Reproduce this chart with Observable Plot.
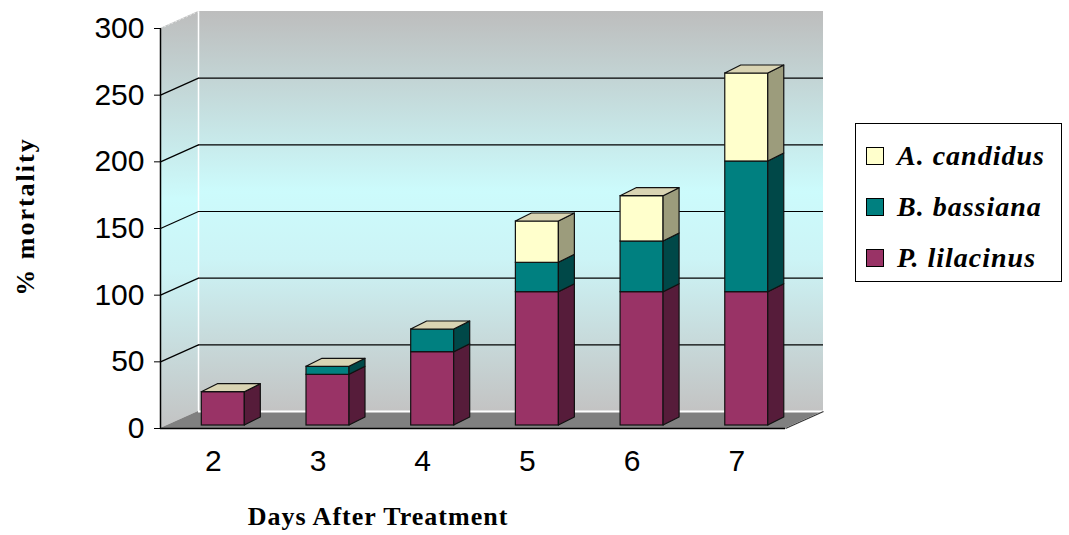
<!DOCTYPE html>
<html>
<head>
<meta charset="utf-8">
<script src="https://cdn.jsdelivr.net/npm/d3@7"></script>
<script src="https://cdn.jsdelivr.net/npm/@observablehq/plot@0.6"></script>
<style>
  body { margin: 0; background: #fff; }
  #chart { position: relative; width: 1069px; height: 535px; }
  .legend {
    position: absolute; left: 855px; top: 123px; width: 207px; height: 159px;
    border: 1px solid #000; background: #fff; box-sizing: border-box;
    font-family: "Liberation Serif", "Times New Roman", serif;
    font-weight: bold; font-style: italic; font-size: 28px; letter-spacing: 1px;
  }
  .legend .row { position: absolute; left: 10px; height: 32px; display: flex; align-items: center; white-space: nowrap; }
  .legend .sw { width: 18px; height: 18px; border: 1px solid #000; box-sizing: border-box; margin-right: 13px; }
</style>
</head>
<body>
<div id="chart"></div>
<script>
// Days after treatment and cumulative % mortality per fungus (stacked)
const days = [2, 3, 4, 5, 6, 7];
const pLilacinus = [25, 38, 55, 100, 100, 100];
const bBassiana  = [0, 6, 17, 22, 38, 98];
const aCandidus  = [0, 0, 0, 31, 34, 66];
const seriesNames = ["P. lilacinus", "B. bassiana", "A. candidus"];
const seriesValues = [pLilacinus, bBassiana, aCandidus];
const yTicks = [0, 50, 100, 150, 200, 250, 300];
const gridValues = [50, 100, 150, 200, 250];

// Styling
const frontColors = ["#993366", "#008080", "#ffffcc"];
const sideColors  = ["#561c3a", "#004848", "#9c9c7c"];
const topColor = "#d9d4b3";
const edge = "#111";

// Layout
const W = 1069, H = 535;
const mL = 160, mR = 284, mT = 28, mB = 107;
const xDomain = [1.4, 7.37];
const yDomain = [0, 300];
const pxPerDay = (W - mL - mR) / (xDomain[1] - xDomain[0]);
const pxPerVal = (H - mT - mB) / (yDomain[1] - yDomain[0]);

// Oblique depth of the chart box (walls) and of each bar, in pixels
const wallDx = 38, wallDy = 17;
const barDx = 16, barDy = 8;
const barHalf = 21.5, barLift = -3;
// same depths converted to data units
const wdX = wallDx / pxPerDay, wdY = wallDy / pxPerVal;
const bdX = barDx / pxPerDay, bdY = barDy / pxPerVal;
const hw = barHalf / pxPerDay;
const [x0, x1] = xDomain;

// Stack the series
const segments = [];
const totals = [];
days.forEach((d, i) => {
  let lo = 0;
  seriesValues.forEach((vals, s) => {
    const v = vals[i];
    if (v > 0) segments.push({day: d, s, lo, hi: lo + v, id: `${d}-${s}`});
    lo += v;
  });
  totals.push({day: d, total: lo});
});

// Side faces (parallelograms to the right of each segment)
const sideFaces = segments.flatMap(g => [
  {id: g.id, s: g.s, x: g.day + hw, y1: g.lo, y2: g.hi},
  {id: g.id, s: g.s, x: g.day + hw + bdX, y1: g.lo + bdY, y2: g.hi + bdY}
]);
// Top faces of each stack
const topFaces = totals.flatMap(t => [
  {day: t.day, y: t.total, x1: t.day - hw, x2: t.day + hw},
  {day: t.day, y: t.total + bdY, x1: t.day - hw + bdX, x2: t.day + hw + bdX}
]);

const serif = "Liberation Serif, Times New Roman, serif";

const marks = [
  // left side wall
  Plot.areaY([{x: x0, y1: 0, y2: 300}, {x: x0 + wdX, y1: wdY, y2: 300 + wdY}],
    {x: "x", y1: "y1", y2: "y2", fill: "url(#wallGrad)"}),
  // back wall
  Plot.rect([0], {x1: x0, x2: x1, y1: 0, y2: 300, dx: wallDx, dy: -wallDy, fill: "url(#wallGrad)"}),
  // floor
  Plot.areaX([{y: 0, x1: x0, x2: x1}, {y: wdY, x1: x0 + wdX, x2: x1 + wdX}],
    {y: "y", x1: "x1", x2: "x2", fill: "#808080"}),
  // white edges of the wall box
  Plot.ruleX([x0], {y1: 0, y2: 300, dx: wallDx, dy: -wallDy, stroke: "#fff", strokeWidth: 1.5}),
  Plot.ruleY([0], {x1: x0, x2: x1, dx: wallDx, dy: -wallDy, stroke: "#fff", strokeWidth: 2}),
  Plot.link([300], {x1: x0, y1: v => v, x2: x0 + wdX, y2: v => v + wdY, stroke: "#e8e8e8", strokeDasharray: "2,2"}),
  // gridlines on back wall and their connectors on the side wall
  Plot.ruleY(gridValues, {x1: x0, x2: x1, dx: wallDx, dy: -wallDy, stroke: "#000", strokeWidth: 1.2}),
  Plot.link(gridValues, {x1: x0, y1: v => v, x2: x0 + wdX, y2: v => v + wdY, stroke: "#000", strokeWidth: 1.2}),
  // floor front and right edges
  Plot.ruleY([0], {x1: x0, x2: x1, stroke: "#000", strokeWidth: 1.5}),
  Plot.link([0], {x1: x1, y1: 0, x2: x1 + wdX, y2: wdY, stroke: "#333", strokeWidth: 1.2}),
  // y axis line
  Plot.ruleX([x0], {y1: 0, y2: 300, stroke: "#000", strokeWidth: 1.5}),
];

// bars: front faces, side faces, top
seriesNames.forEach((name, s) => {
  marks.push(Plot.rect(segments.filter(g => g.s === s), {
    x1: g => g.day - hw, x2: g => g.day + hw, y1: "lo", y2: "hi",
    dy: barLift, fill: frontColors[s], stroke: edge, strokeWidth: 1.2
  }));
  marks.push(Plot.areaY(sideFaces.filter(f => f.s === s), {
    x: "x", y1: "y1", y2: "y2", z: "id",
    dy: barLift, fill: sideColors[s], stroke: edge, strokeWidth: 1.2
  }));
});
marks.push(Plot.areaX(topFaces, {
  y: "y", x1: "x1", x2: "x2", z: "day",
  dy: barLift, fill: topColor, stroke: edge, strokeWidth: 1.2
}));

// x tick labels
marks.push(Plot.text(days, {
  x: d => d, text: d => String(d), frameAnchor: "bottom", lineAnchor: "middle",
  textAnchor: "middle", dy: 33, dx: -10, fontSize: 30
}));
// axis titles
marks.push(Plot.text(["% mortality"], {
  frameAnchor: "left", text: d => d, rotate: -90, textAnchor: "middle", lineAnchor: "middle",
  dx: -135, dy: -12, fontSize: 26, fontWeight: "bold", fontFamily: serif,
  letterSpacing: "2px"
}));
marks.push(Plot.text(["Days After Treatment"], {
  frameAnchor: "bottom", text: d => d, textAnchor: "middle", lineAnchor: "middle",
  dx: -95, dy: 88, fontSize: 26, fontWeight: "bold", fontFamily: serif,
  letterSpacing: "1px"
}));

const plot = Plot.plot({
  width: W, height: H,
  marginLeft: mL, marginRight: mR, marginTop: mT, marginBottom: mB,
  x: {domain: xDomain, axis: null},
  y: {domain: yDomain, ticks: yTicks, tickSize: 6, tickPadding: 10, label: null},
  style: {fontFamily: "Liberation Sans, Arial, sans-serif", fontSize: "30px", color: "#000", background: "transparent", overflow: "visible"},
  marks
});

const svgEl = plot.tagName.toLowerCase() === "svg" ? plot : plot.querySelector("svg");
const defs = d3.select(svgEl).insert("defs", ":first-child");
const grad = defs.append("linearGradient").attr("id", "wallGrad")
  .attr("x1", 0).attr("y1", 0).attr("x2", 0).attr("y2", 1);
[[0, "#bdbdbd"], [0.45, "#ccfbfc"], [0.62, "#ccf4f6"], [1, "#c3c3c3"]].forEach(([o, c]) =>
  grad.append("stop").attr("offset", o).attr("stop-color", c));
// letter spacing for the axis titles
d3.select(svgEl).selectAll("text").each(function() {
  const t = this.textContent;
  if (t === "% mortality") this.setAttribute("letter-spacing", "2px");
  if (t === "Days After Treatment") this.setAttribute("letter-spacing", "1px");
});

const chart = document.getElementById("chart");
chart.appendChild(plot);

// legend (top entry is the top of the stack)
const legend = document.createElement("div");
legend.className = "legend";
[2, 1, 0].forEach((s, k) => {
  const row = document.createElement("div");
  row.className = "row";
  row.style.top = (16 + k * 51) + "px";
  const sw = document.createElement("span");
  sw.className = "sw";
  sw.style.background = frontColors[s];
  const label = document.createElement("span");
  label.textContent = seriesNames[s];
  row.appendChild(sw);
  row.appendChild(label);
  legend.appendChild(row);
});
chart.appendChild(legend);
</script>
</body>
</html>
